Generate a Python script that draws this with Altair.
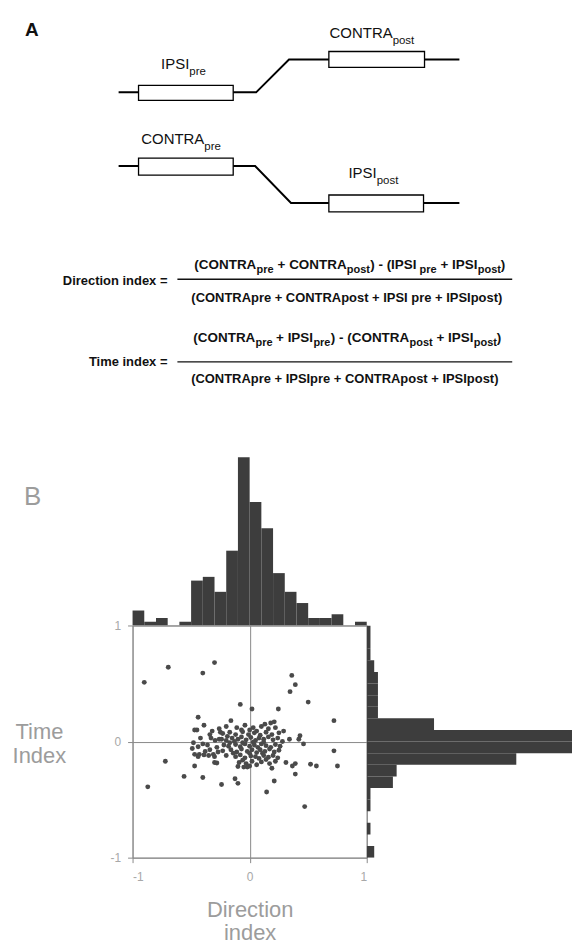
import altair as alt
import pandas as pd

FONT = "Liberation Sans, Arial, Helvetica, sans-serif"
GRAY_TXT = "#9c9c9c"
GRAY_LINE = "#8a8a8a"
BAR = "#3d3d3d"

# ---------------- Panel A: schematic (schematic units) ----------------
trace_id = ["top", "top", "top", "top", "bottom", "bottom", "bottom", "bottom"]
trace_ord = [0, 1, 2, 3, 0, 1, 2, 3]
trace_x = [118, 256, 289, 460, 118, 255, 291, 460]
trace_y = [90, 90, 57, 57, 164, 164, 201, 201]

box_x1 = [138, 329, 138, 329]
box_x2 = [233, 425, 233, 424]
box_y1 = [83, 49, 156, 193]
box_y2 = [98, 65, 173, 210]

epoch_main = ["IPSI", "CONTRA", "CONTRA", "IPSI"]
epoch_sub = ["pre", "post", "pre", "post"]
epoch_x = [189, 393, 204, 377]
epoch_y = [67, 35, 142, 176]

panel_a_label = ["A"]
panel_a_x = [24]
panel_a_y = [33]

eq_name = ["Direction index =", "Time index ="]
eq_name_x = [167, 167]
eq_name_y = [283, 365]
eq_bar_x1 = [177, 177]
eq_bar_x2 = [513, 513]
eq_bar_y = [277.5, 360.5]
eq_den = ["(CONTRApre + CONTRApost + IPSI pre + IPSIpost)",
          "(CONTRApre + IPSIpre + CONTRApost + IPSIpost)"]
eq_den_x = [347, 345]
eq_den_y = [300, 382]

num_text = ["(CONTRA", "pre", "+ CONTRA", "post", ") - (IPSI", "pre", "+ IPSI", "post", ")",
            "(CONTRA", "pre", "+ IPSI", "pre", ") - (CONTRA", "post", "+ IPSI", "post", ")"]
num_x = [194, 256.5, 277.5, 347, 370.5, 420, 441, 478.5, 501.5,
         193, 255.5, 276, 313.5, 331, 410, 437, 474.5, 497.5]
num_is_sub = [0, 1, 0, 1, 0, 1, 0, 1, 0] * 2
num_y = [267] * 9 + [341] * 9

# ---------------- Panel B data ----------------
bin_edges_lo = [round(-1.0 + 0.1 * i, 1) for i in range(20)]
dir_hist_count = [4, 1, 2, 0, 1, 12, 13, 9, 20, 45, 33, 26, 14, 9, 6, 2, 2, 3, 0, 1]
time_hist_count = [2, 0, 1, 0, 1, 1, 7, 8, 40, 55, 60, 18, 3, 3, 3, 3, 2, 1, 1, 1]

dir_index = [
    -0.90, -0.695, -0.30, -0.40, 0.36, 0.39, 0.345, 0.50, -0.08, 0.02, 0.245, 0.72, -0.44, -0.16,
    -0.39, 0.72, 0.75, 0.57, 0.52, -0.72, -0.87, -0.56, -0.40, -0.47, -0.24, -0.125, -0.10, 0.145,
    0.21, 0.19, 0.31, 0.365, 0.39, 0.39, 0.47, -0.30, -0.28, 0.43, 0.46, 0.42, 0.34, 0.29, 0.21,
    0.18, -0.02, -0.10,
    -0.47, -0.45, -0.32, -0.34, -0.26, -0.25, -0.295, -0.48, -0.40, -0.44, -0.47, -0.43, -0.39,
    -0.35, -0.31, -0.34, -0.44, -0.38, -0.28, -0.26, -0.33, -0.42, -0.36, -0.49, -0.30, -0.27,
    -0.20, -0.11, -0.04, 0.03, 0.10, 0.16, -0.07, 0.06, 0.22, 0.13,
    -0.23, -0.17, -0.12, -0.06, -0.01, 0.04, 0.09, 0.14, 0.19, 0.25, -0.19, 0.00,
    -0.24, -0.20, -0.15, -0.10, -0.07, -0.03, 0.01, 0.05, 0.08, 0.12, 0.16, 0.20, 0.24, 0.28,
    -0.13, 0.03, -0.17,
    -0.22, -0.18, -0.12, -0.08, -0.04, 0.00, 0.04, 0.07, 0.10, 0.14, 0.18, 0.22, 0.26, -0.06, 0.12,
    -0.23, -0.16, -0.11, -0.07, -0.02, 0.02, 0.06, 0.09, 0.13, 0.17, 0.21, 0.25, -0.14, 0.00, 0.11,
    -0.20, -0.12, -0.08, -0.04, 0.01, 0.05, 0.08, 0.12, 0.16, 0.20, 0.24, -0.06, 0.14,
    -0.09, -0.03, 0.02, 0.06, 0.10, 0.17, -0.05, 0.00, 0.22,
]
time_index = [
    0.51, 0.64, 0.68, 0.59, 0.57, 0.49, 0.43, 0.34, 0.32, 0.28, 0.28, 0.18, 0.21, 0.18,
    0.14, -0.08, -0.21, -0.21, -0.195, -0.17, -0.39, -0.30, -0.31, -0.21, -0.37, -0.32, -0.36, -0.435,
    -0.34, -0.23, -0.18, -0.21, -0.19, -0.28, -0.56, -0.18, -0.185, 0.05, -0.02, 0.02, 0.02, 0.09, 0.17,
    0.16, -0.22, -0.215,
    0.10, 0.10, 0.09, 0.06, 0.11, 0.08, 0.01, -0.01, -0.02, -0.045, -0.11, -0.11, -0.115,
    -0.12, -0.11, -0.07, -0.13, -0.085, -0.05, 0.02, 0.03, 0.03, -0.03, -0.06, -0.13, -0.09,
    0.13, 0.12, 0.14, 0.12, 0.13, 0.11, 0.10, 0.09, 0.12, 0.15,
    0.07, 0.08, 0.06, 0.085, 0.06, 0.075, 0.055, 0.08, 0.06, 0.075, 0.045, 0.10,
    0.02, 0.01, 0.03, 0.02, 0.04, 0.015, 0.035, 0.01, 0.03, 0.02, 0.04, 0.015, 0.03, 0.00,
    0.00, -0.005, -0.01,
    -0.03, -0.04, -0.025, -0.045, -0.02, -0.04, -0.03, -0.05, -0.02, -0.035, -0.05, -0.025, -0.04, -0.01, -0.005,
    -0.08, -0.07, -0.09, -0.065, -0.085, -0.07, -0.095, -0.07, -0.085, -0.065, -0.09, -0.075, -0.10, -0.10, -0.10,
    -0.12, -0.13, -0.115, -0.14, -0.125, -0.13, -0.145, -0.12, -0.135, -0.12, -0.14, -0.16, -0.155,
    -0.18, -0.19, -0.17, -0.20, -0.175, -0.19, -0.22, -0.21, -0.17,
]

# ---------------- Panel A chart ----------------
xs = alt.Scale(domain=[8, 573], nice=False, zero=False)
ys = alt.Scale(domain=[8, 455], nice=False, zero=False, reverse=True)
X = lambda f: alt.X(f, type="quantitative", scale=xs, axis=None)
Y = lambda f: alt.Y(f, type="quantitative", scale=ys, axis=None)

traces = pd.DataFrame({"id": trace_id, "ord": trace_ord, "x": trace_x, "y": trace_y})
boxes = pd.DataFrame({"x1": box_x1, "x2": box_x2, "y1": box_y1, "y2": box_y2})
epochs = pd.DataFrame({"main": epoch_main, "sub": epoch_sub, "x": epoch_x, "y": epoch_y})
alab = pd.DataFrame({"t": panel_a_label, "x": panel_a_x, "y": panel_a_y})
eqn = pd.DataFrame({"t": eq_name, "x": eq_name_x, "y": eq_name_y})
eqb = pd.DataFrame({"x1": eq_bar_x1, "x2": eq_bar_x2, "y": eq_bar_y})
eqd = pd.DataFrame({"t": eq_den, "x": eq_den_x, "y": eq_den_y})
num = pd.DataFrame({"t": num_text, "x": num_x, "y": num_y, "sub": num_is_sub})

l_trace = alt.Chart(traces).mark_line(color="black", strokeWidth=2).encode(
    x=X("x"), y=Y("y"), detail="id:N", order="ord:Q")
l_box = alt.Chart(boxes).mark_rect(fill="white", stroke="black", strokeWidth=1.3).encode(
    x=X("x1"), x2="x2", y=Y("y1"), y2="y2")
l_main = alt.Chart(epochs).mark_text(align="right", baseline="alphabetic", font=FONT,
                                     fontSize=15, color="#111").encode(x=X("x"), y=Y("y"), text="main:N")
l_sub = alt.Chart(epochs).mark_text(align="left", baseline="alphabetic", font=FONT,
                                    fontSize=11.5, dy=6, color="#111").encode(x=X("x"), y=Y("y"), text="sub:N")
l_a = alt.Chart(alab).mark_text(align="left", baseline="alphabetic", font=FONT, fontSize=19,
                                fontWeight="bold", color="#111").encode(x=X("x"), y=Y("y"), text="t:N")
l_eqn = alt.Chart(eqn).mark_text(align="right", baseline="alphabetic", font=FONT, fontSize=13,
                                 fontWeight="bold", color="#111").encode(x=X("x"), y=Y("y"), text="t:N")
l_eqb = alt.Chart(eqb).mark_rule(color="#111", strokeWidth=1.4).encode(x=X("x1"), x2="x2", y=Y("y"))
l_eqd = alt.Chart(eqd).mark_text(align="center", baseline="alphabetic", font=FONT, fontSize=13,
                                 fontWeight="bold", color="#111").encode(x=X("x"), y=Y("y"), text="t:N")
l_num_main = alt.Chart(num).transform_filter("datum.sub == 0").mark_text(
    align="left", baseline="alphabetic", font=FONT, fontSize=13.5, fontWeight="bold", color="#111"
).encode(x=X("x"), y=Y("y"), text="t:N")
l_num_sub = alt.Chart(num).transform_filter("datum.sub == 1").mark_text(
    align="left", baseline="alphabetic", font=FONT, fontSize=11, fontWeight="bold", dy=4, color="#111"
).encode(x=X("x"), y=Y("y"), text="t:N")

panel_a = alt.layer(l_trace, l_box, l_main, l_sub, l_a, l_eqn, l_eqb, l_eqd,
                    l_num_main, l_num_sub).properties(width=565, height=447)

# ---------------- Panel B charts ----------------
idx_scale = alt.Scale(domain=[-1, 1], nice=False, zero=False)

hist_top = pd.DataFrame({"lo": bin_edges_lo, "hi": [round(b + 0.1, 1) for b in bin_edges_lo],
                         "n": dir_hist_count})
hist_right = pd.DataFrame({"lo": bin_edges_lo, "hi": [round(b + 0.1, 1) for b in bin_edges_lo],
                           "n": time_hist_count})
pts = pd.DataFrame({"d": dir_index, "t": time_index})

top_hist = alt.Chart(hist_top).mark_rect(color=BAR).encode(
    x=alt.X("lo:Q", scale=idx_scale, axis=None), x2="hi:Q",
    y=alt.Y("n:Q", scale=alt.Scale(domain=[0, 45.3], nice=False), axis=None), y2=alt.datum(0)
).properties(width=235, height=170)

right_hist = alt.Chart(hist_right).mark_rect(color=BAR, clip=True).encode(
    y=alt.Y("lo:Q", scale=idx_scale, axis=None), y2="hi:Q",
    x=alt.X("n:Q", scale=alt.Scale(domain=[0, 54.9], nice=False), axis=None), x2=alt.datum(0)
).properties(width=206, height=233)

axis_common = dict(values=[-1, 0, 1], grid=True, gridColor=GRAY_LINE, gridWidth=1, domain=False,
                   ticks=True, tickColor=GRAY_LINE, tickSize=5, labelColor="#a8a8a8",
                   labelFontSize=12, labelFont=FONT, labelExpr="datum.value + ''",
                   titleColor=GRAY_TXT, titleFont=FONT, titleFontSize=22, titleFontWeight="normal")

scatter = alt.Chart(pts).mark_circle(size=24, color="#4a4a4a", opacity=1).encode(
    x=alt.X("d:Q", scale=idx_scale,
            axis=alt.Axis(**axis_common, labelPadding=9, title=["Direction", "index"],
                          titleAngle=0, titleAlign="center", titleBaseline="alphabetic",
                          titleX=117.5, titleY=59, titleLineHeight=23)),
    y=alt.Y("t:Q", scale=idx_scale,
            axis=alt.Axis(**axis_common, labelPadding=7, title=["Time", "Index"],
                          titleAngle=0, titleAlign="center", titleBaseline="alphabetic",
                          titleX=-94, titleY=113, titleLineHeight=25)),
).properties(width=235, height=233, view=alt.ViewBackground(stroke=GRAY_LINE, strokeWidth=1))

b_cell = alt.Chart(pd.DataFrame({"t": ["B"]})).mark_text(
    align="left", baseline="alphabetic", font=FONT, fontSize=26, color=GRAY_TXT
).encode(text="t:N", x=alt.value(15), y=alt.value(49)).properties(width=124, height=170)

blank = pd.DataFrame({"v": [0]})
spacer_tr = alt.Chart(blank).mark_point(opacity=0).properties(width=206, height=170)
spacer_bl = alt.Chart(blank).mark_point(opacity=0).properties(width=124, height=233)

panel_b = alt.concat(b_cell, top_hist, spacer_tr, spacer_bl, scatter, right_hist,
                     columns=3, spacing=0, bounds="flush", align="each")

chart = alt.vconcat(panel_a, panel_b, spacing=0, bounds="flush").properties(
    padding=0, background="white"
).configure_view(stroke="transparent")

chart.save("out.html", embed_options={"renderer": "svg", "actions": False})
